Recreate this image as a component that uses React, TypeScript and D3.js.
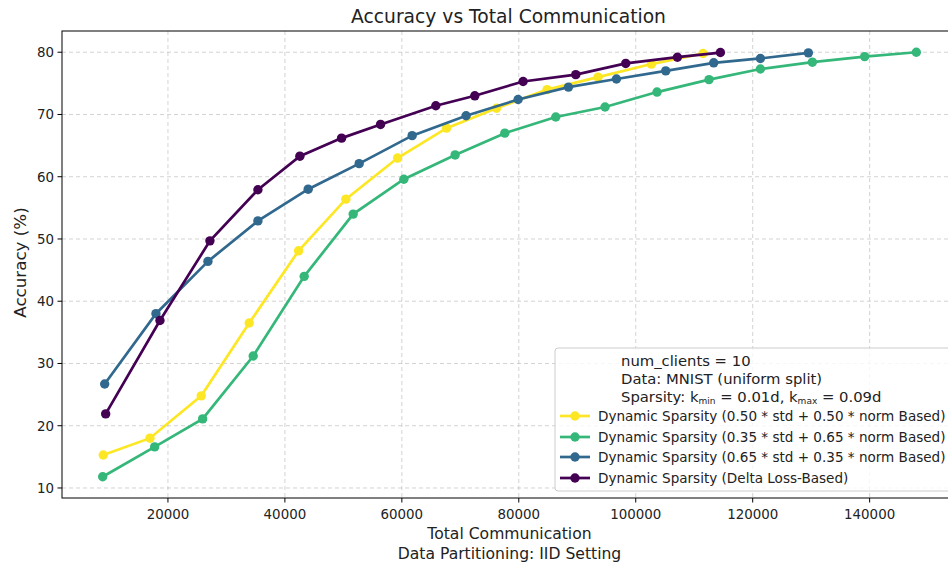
import React from "react";
import * as d3 from "d3";

const yellowX = [8940, 16923, 25692, 33897, 42342, 50427, 59265, 67641, 76188, 84838, 93556, 102684, 111504];
const yellowY = [15.3, 18.0, 24.8, 36.5, 48.1, 56.4, 63.0, 67.8, 71.0, 74.0, 76.0, 78.1, 79.8];

const greenX = [8838, 17726, 25932, 34581, 43299, 51675, 60342, 69111, 77607, 86325, 94752, 103641, 112530, 121316, 130205, 139145, 147983];
const greenY = [11.8, 16.6, 21.1, 31.2, 44.0, 54.0, 59.6, 63.5, 67.0, 69.6, 71.2, 73.6, 75.6, 77.3, 78.4, 79.3, 80.0];

const blueX = [9179, 17949, 26838, 35385, 43983, 52701, 61761, 70991, 79880, 88496, 96701, 105128, 113333, 121316, 129521];
const blueY = [26.7, 38.0, 46.4, 52.9, 58.0, 62.1, 66.6, 69.8, 72.4, 74.4, 75.7, 77.0, 78.3, 79.0, 79.9];

const purpleX = [9350, 18632, 27179, 35385, 42564, 49692, 56359, 65812, 72479, 80735, 89744, 98291, 107128, 114479];
const purpleY = [21.9, 36.9, 49.7, 57.9, 63.3, 66.2, 68.4, 71.4, 73.0, 75.3, 76.4, 78.2, 79.2, 79.95];

const seriesNames = [
  "Dynamic Sparsity (0.50 * std + 0.50 * norm Based)",
  "Dynamic Sparsity (0.35 * std + 0.65 * norm Based)",
  "Dynamic Sparsity (0.65 * std + 0.35 * norm Based)",
  "Dynamic Sparsity (Delta Loss-Based)",
];
const seriesColors = ["#fde725", "#35b779", "#31688e", "#440154"];
const xTicks = [20000, 40000, 60000, 80000, 100000, 120000, 140000];
const yTicks = [10, 20, 30, 40, 50, 60, 70, 80];

const W = 948, H = 570;
const M = { left: 62, right: 957, top: 31, bottom: 498 };
const FONT = "DejaVu Sans, sans-serif";

export default function App() {
  const allX = [...yellowX, ...greenX, ...blueX, ...purpleX];
  const allY = [...yellowY, ...greenY, ...blueY, ...purpleY];
  const [x0, x1] = d3.extent(allX) as [number, number];
  const [y0, y1] = d3.extent(allY) as [number, number];
  const xm = (x1 - x0) * 0.05, ym = (y1 - y0) * 0.05;
  const x = d3.scaleLinear().domain([x0 - xm, x1 + xm]).range([M.left, M.right]);
  const y = d3.scaleLinear().domain([y0 - ym, y1 + ym]).range([M.bottom, M.top]);

  const series = [
    { xs: yellowX, ys: yellowY },
    { xs: greenX, ys: greenY },
    { xs: blueX, ys: blueY },
    { xs: purpleX, ys: purpleY },
  ].map((s, i) => ({
    name: seriesNames[i],
    color: seriesColors[i],
    pts: s.xs.map((v, j) => [v, s.ys[j]] as [number, number]),
  }));

  const line = d3.line<[number, number]>().x((d) => x(d[0])).y((d) => y(d[1]));

  const lg = { x: 555, y: 348, w: 400, h: 143 };
  const entryY = [416, 437, 457, 478];

  return (
    <svg width={W} height={H} style={{ position: "absolute", left: 0, top: 0, background: "#fff" }} fontFamily={FONT} fill="#222">
      <defs>
        <clipPath id="plotclip">
          <rect x={M.left} y={M.top} width={M.right - M.left} height={M.bottom - M.top} />
        </clipPath>
      </defs>
      <rect x={0} y={0} width={W} height={H} fill="#fff" />
      {/* grid */}
      {xTicks.map((t) => (
        <line key={"gx" + t} x1={x(t)} x2={x(t)} y1={M.top} y2={M.bottom} stroke="#b0b0b0" strokeOpacity={0.7} strokeDasharray="4,3" strokeWidth={0.8} />
      ))}
      {yTicks.map((t) => (
        <line key={"gy" + t} x1={M.left} x2={M.right} y1={y(t)} y2={y(t)} stroke="#b0b0b0" strokeOpacity={0.7} strokeDasharray="4,3" strokeWidth={0.8} />
      ))}
      {/* series */}
      <g clipPath="url(#plotclip)">
        {series.map((s) => (
          <g key={s.name}>
            <path d={line(s.pts) || ""} fill="none" stroke={s.color} strokeWidth={2.7} />
            {s.pts.map((p, j) => (
              <circle key={j} cx={x(p[0])} cy={y(p[1])} r={4.7} fill={s.color} />
            ))}
          </g>
        ))}
      </g>
      {/* frame */}
      <rect x={M.left} y={M.top} width={M.right - M.left} height={M.bottom - M.top} fill="none" stroke="#000" strokeWidth={1} />
      {/* ticks */}
      {xTicks.map((t) => (
        <g key={"tx" + t}>
          <line x1={x(t)} x2={x(t)} y1={M.bottom} y2={M.bottom + 4.5} stroke="#000" />
          <text x={x(t)} y={M.bottom + 21} textAnchor="middle" fontSize={13.4}>{t}</text>
        </g>
      ))}
      {yTicks.map((t) => (
        <g key={"ty" + t}>
          <line x1={M.left - 4.5} x2={M.left} y1={y(t)} y2={y(t)} stroke="#000" />
          <text x={M.left - 8} y={y(t) + 5} textAnchor="end" fontSize={13.4}>{t}</text>
        </g>
      ))}
      {/* titles */}
      <text x={(M.left + M.right) / 2 - 1} y={23} textAnchor="middle" fontSize={18.7}>Accuracy vs Total Communication</text>
      <text x={(M.left + M.right) / 2} y={539} textAnchor="middle" fontSize={15.6}>Total Communication</text>
      <text x={(M.left + M.right) / 2} y={558.5} textAnchor="middle" fontSize={15.6}>Data Partitioning: IID Setting</text>
      <text transform={`translate(26,${(M.top + M.bottom) / 2 - 2}) rotate(-90)`} textAnchor="middle" fontSize={16.7}>Accuracy (%)</text>
      {/* legend */}
      <rect x={lg.x} y={lg.y} width={lg.w} height={lg.h} rx={3} fill="#fff" fillOpacity={0.8} stroke="#cccccc" strokeWidth={1} />
      <text x={621} y={366} fontSize={14.8}>num_clients = 10</text>
      <text x={621} y={384} fontSize={14.8}>Data: MNIST (uniform split)</text>
      <text x={621} y={402} fontSize={14.8}>
        Sparsity: k<tspan fontSize={9} dy={1.5}>min</tspan><tspan dy={-1.5}> = 0.01d, k</tspan><tspan fontSize={9} dy={1.5}>max</tspan><tspan dy={-1.5}> = 0.09d</tspan>
      </text>
      {series.map((s, i) => (
        <g key={"lg" + i}>
          <line x1={560} x2={590} y1={entryY[i]} y2={entryY[i]} stroke={s.color} strokeWidth={2.7} />
          <circle cx={575} cy={entryY[i]} r={4.7} fill={s.color} />
          <text x={598} y={entryY[i] + 5} fontSize={13.55}>{s.name}</text>
        </g>
      ))}
    </svg>
  );
}
